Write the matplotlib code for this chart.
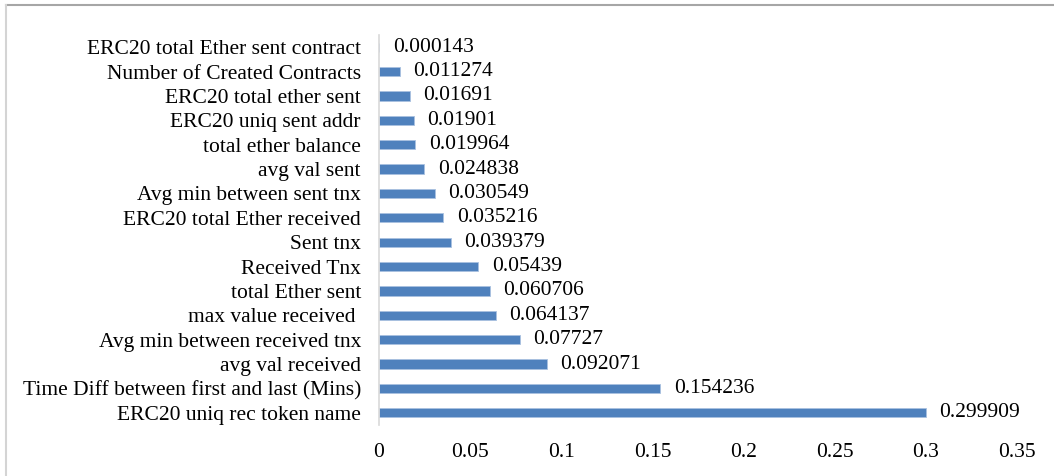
import matplotlib.pyplot as plt
from matplotlib.lines import Line2D

features = ['ERC20 total Ether sent contract', 'Number of Created Contracts',
            'ERC20 total ether sent', 'ERC20 uniq sent addr', 'total ether balance',
            'avg val sent', 'Avg min between sent tnx', 'ERC20 total Ether received',
            'Sent tnx', 'Received Tnx', 'total Ether sent', 'max value received ',
            'Avg min between received tnx', 'avg val received',
            'Time Diff between first and last (Mins)', 'ERC20 uniq rec token name']
scores = [0.000143, 0.011274, 0.01691, 0.01901, 0.019964, 0.024838, 0.030549,
          0.035216, 0.039379, 0.05439, 0.060706, 0.064137, 0.07727, 0.092071,
          0.154236, 0.299909]
labels = ['0.000143', '0.011274', '0.01691', '0.01901', '0.019964', '0.024838',
          '0.030549', '0.035216', '0.039379', '0.05439', '0.060706', '0.064137',
          '0.07727', '0.092071', '0.154236', '0.299909']
xticks = [0, 0.05, 0.1, 0.15, 0.2, 0.25, 0.3, 0.35]
xtick_labels = ['0', '0.05', '0.1', '0.15', '0.2', '0.25', '0.3', '0.35']

plt.rcParams['font.family'] = ['Liberation Serif', 'DejaVu Serif']
fs = 15.5

fig = plt.figure(figsize=(10.54, 4.76), dpi=100)
ax = fig.add_axes([379/1054, 1 - 425/476, (1017 - 379)/1054, (425 - 35)/476])

ypos = list(range(len(features)))
ax.barh(ypos, scores, height=0.38, color='#4f81bd', edgecolor='#a9c1e0', linewidth=0.6)
for y, v, t in zip(ypos, scores, labels):
    ax.text(v + 0.0075, y, t, va='center', ha='left', fontsize=fs)

ax.set_ylim(len(features) - 0.5, -0.5)
ax.set_xlim(0, 0.35)
ax.set_yticks(ypos)
ax.set_yticklabels(features, fontsize=fs)
ax.set_xticks(xticks)
ax.set_xticklabels(xtick_labels, fontsize=fs)
ax.tick_params(axis='both', length=0)
ax.tick_params(axis='y', pad=13)
ax.tick_params(axis='x', pad=13)
for s in ['top', 'right', 'bottom']:
    ax.spines[s].set_visible(False)
ax.spines['left'].set_color('#d9d9d9')
ax.spines['left'].set_linewidth(1.2)

# outer frame (top and left edges)
fig.add_artist(Line2D([6/1054, 1], [1 - 5/476, 1 - 5/476], color='#a6a6a6', lw=1.5,
                      transform=fig.transFigure))
fig.add_artist(Line2D([6/1054, 6/1054], [0, 1 - 5/476], color='#d4d4d4', lw=1.5,
                      transform=fig.transFigure))

fig.savefig('out.png', dpi=100)
